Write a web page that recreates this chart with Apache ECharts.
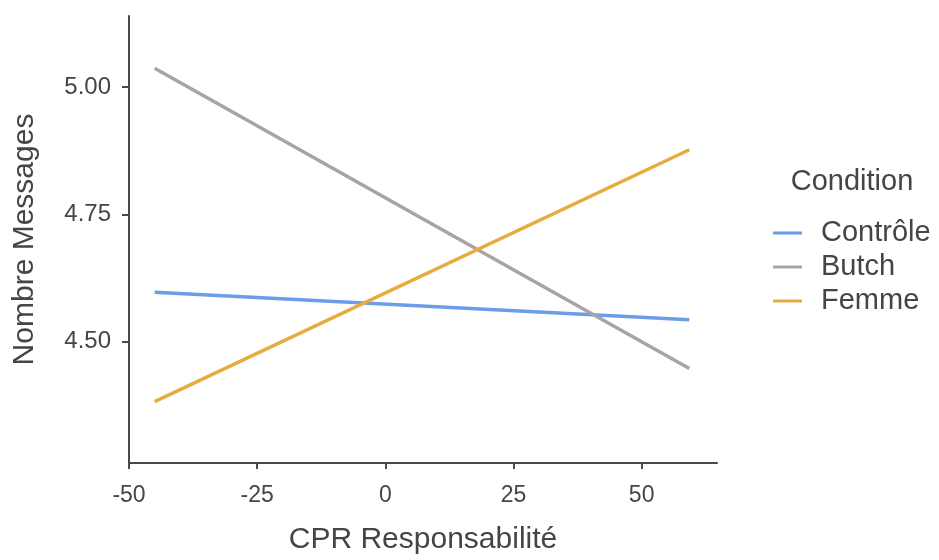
<!DOCTYPE html>
<html>
<head>
<meta charset="utf-8">
<script src="https://cdn.jsdelivr.net/npm/echarts@6/dist/echarts.min.js"></script>
<style>html,body{margin:0;padding:0;background:#fff}#c{width:939px;height:560px}</style>
</head>
<body>
<div id="c"></div>
<script>
const seriesNames = ['Contrôle', 'Butch', 'Femme'];
const xValues = [-45, 59.3];
const controle = [4.597, 4.543];
const butch = [5.037, 4.447];
const femme = [4.382, 4.877];
const xTicks = [-50, -25, 0, 25, 50];
const yTicks = [4.5, 4.75, 5.0];
const colors = ['#6B9DE8', '#A5A5A5', '#E6AC40'];

const font = "'Liberation Sans', Arial, sans-serif";
const textColor = '#454545';
const axisColor = '#4a4a4a';

function pts(ys) { return xValues.map((x, i) => [x, ys[i]]); }
const allY = [controle, butch, femme];

const chart = echarts.init(document.getElementById('c'), null, {renderer: 'canvas'});
chart.setOption({
  animation: false,
  backgroundColor: '#fff',
  textStyle: {fontFamily: font},
  grid: {left: 129, right: 222, top: 16, bottom: 91, containLabel: false},
  xAxis: {
    type: 'value', min: -50, max: 64.7,
    name: 'CPR Responsabilité', nameLocation: 'middle', nameGap: 62,
    nameTextStyle: {fontSize: 30, color: textColor, fontFamily: font},
    axisLine: {show: true, onZero: false, lineStyle: {color: axisColor, width: 2}},
    axisTick: {show: true, length: 6, lineStyle: {color: axisColor, width: 2}, customValues: xTicks},
    axisLabel: {fontSize: 23, color: textColor, margin: 21, fontFamily: font, customValues: xTicks},
    splitLine: {show: false}
  },
  yAxis: {
    type: 'value', min: 4.2615, max: 5.1397,
    name: 'Nombre Messages', nameLocation: 'middle', nameGap: 89,
    nameTextStyle: {fontSize: 30, color: textColor, fontFamily: font},
    axisLine: {show: true, onZero: false, lineStyle: {color: axisColor, width: 2}},
    axisTick: {show: true, length: 7, lineStyle: {color: axisColor, width: 2}, customValues: yTicks},
    axisLabel: {fontSize: 24, color: textColor, margin: 18, fontFamily: font, customValues: yTicks,
      formatter: v => Number(v).toFixed(2)},
    splitLine: {show: false}
  },
  legend: {
    orient: 'vertical', left: 768, top: 213,
    icon: 'rect', itemWidth: 29, itemHeight: 3, itemGap: 4,
    textStyle: {fontSize: 29, color: textColor, fontFamily: font, lineHeight: 30, padding: [0, 0, 0, 14]},
    data: seriesNames
  },
  graphic: [{
    type: 'text', x: 852, y: 182,
    style: {text: 'Condition', font: '29px ' + font, fill: textColor, textAlign: 'center', textVerticalAlign: 'middle'}
  }],
  series: seriesNames.map((n, i) => ({
    name: n, type: 'line', data: pts(allY[i]), symbol: 'none', showSymbol: false,
    lineStyle: {color: colors[i], width: 3.5}, itemStyle: {color: colors[i]}
  }))
});
</script>
</body>
</html>
